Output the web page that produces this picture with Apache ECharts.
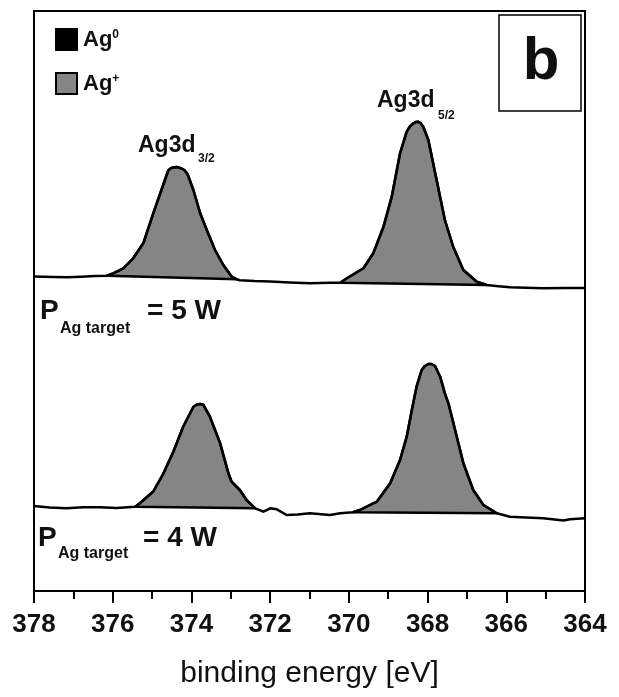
<!DOCTYPE html>
<html><head><meta charset="utf-8">
<script src="https://cdn.jsdelivr.net/npm/echarts@6/dist/echarts.min.js"></script>
<style>html,body{margin:0;padding:0;background:#fff}#c{width:619px;height:697px}</style>
</head><body><div id="c"></div>
<script>
// binding energy [eV] and intensity (arbitrary units, offset spectra)
const energyTop = [378.00, 377.50, 377.17, 376.80, 376.45, 376.15, 375.99, 375.73, 375.48, 375.22, 374.97, 374.71, 374.59, 374.53, 374.46, 374.37, 374.25, 374.18, 374.10, 373.95, 373.78, 373.61, 373.40, 373.19, 372.98, 372.85, 372.77, 372.40, 372.00, 371.50, 370.99, 370.48, 370.22, 370.05, 369.63, 369.38, 369.12, 368.91, 368.70, 368.53, 368.45, 368.36, 368.30, 368.24, 368.18, 368.11, 367.98, 367.77, 367.56, 367.35, 367.09, 366.75, 366.50, 366.20, 365.91, 365.50, 365.07, 364.50, 364.00];
const intensityTop = [314.5, 314.0, 313.7, 314.3, 315.0, 315.3, 317.7, 322.7, 332.7, 348.0, 377.7, 407.0, 420.5, 422.7, 423.5, 424.0, 422.5, 421.0, 417.0, 401.0, 378.0, 361.0, 341.0, 326.0, 314.5, 311.7, 310.8, 310.0, 309.5, 308.6, 307.7, 308.3, 308.3, 312.7, 322.7, 337.7, 364.3, 394.3, 437.7, 459.3, 464.5, 467.7, 469.0, 469.3, 468.0, 464.3, 451.0, 411.0, 371.0, 344.3, 321.0, 309.3, 306.0, 304.8, 303.7, 303.2, 302.7, 302.9, 303.0];
const energyBottom = [378.00, 377.60, 377.17, 376.75, 376.32, 375.90, 375.43, 375.31, 374.97, 374.71, 374.46, 374.21, 373.95, 373.87, 373.78, 373.70, 373.53, 373.27, 373.06, 372.98, 372.77, 372.60, 372.38, 372.17, 372.00, 371.83, 371.58, 371.30, 370.99, 370.48, 370.22, 369.89, 369.72, 369.29, 368.95, 368.70, 368.53, 368.40, 368.28, 368.15, 368.07, 367.98, 367.90, 367.81, 367.68, 367.56, 367.47, 367.30, 367.09, 366.84, 366.58, 366.24, 365.91, 365.50, 365.06, 364.55, 364.38, 364.00];
const intensityBottom = [85.0, 83.5, 82.7, 83.8, 83.7, 83.0, 84.3, 87.7, 99.5, 117.7, 139.3, 164.3, 184.3, 186.3, 187.0, 186.3, 174.3, 147.7, 117.7, 109.3, 101.0, 91.0, 82.7, 79.3, 82.7, 81.7, 76.0, 76.5, 77.7, 76.0, 77.7, 78.7, 81.0, 89.3, 107.7, 131.0, 154.3, 181.0, 204.3, 221.0, 225.0, 227.0, 227.0, 225.0, 214.3, 197.7, 187.7, 161.0, 127.7, 101.0, 86.0, 77.7, 74.3, 73.5, 72.7, 70.5, 71.7, 72.7];

// Ag+ fitted components: energy range of each peak and the spectrum it belongs to
const peakStart = [376.15, 370.22, 375.43, 369.89];
const peakEnd = [372.85, 366.50, 372.38, 366.24];
const peakSpectrum = [0, 0, 1, 1];

const legendNames = ['Ag0', 'Ag+'];
const axisMin = 364, axisMax = 378, axisStep = 2;

const spectra = [
  energyTop.map((e, i) => [e, intensityTop[i]]),
  energyBottom.map((e, i) => [e, intensityBottom[i]])
];

const FONT = '"Liberation Sans", Arial, sans-serif';
const chart = echarts.init(document.getElementById('c'), null, {renderer: 'canvas'});

function txt(text, x, y, size, bold) {
  return {
    type: 'text', x: x, y: y, silent: true,
    style: {text: text, fill: '#111', fontSize: size, fontWeight: bold ? 'bold' : 'normal',
      fontFamily: FONT, align: 'left', verticalAlign: 'middle'}
  };
}

const option = {
  animation: false,
  backgroundColor: '#fff',
  grid: {left: 34, right: 34, top: 11, bottom: 106, show: true, borderColor: '#000', borderWidth: 2},
  legend: {
    orient: 'vertical', left: 50, top: 23, itemWidth: 21, itemHeight: 21, itemGap: 21,
    icon: 'rect', selectedMode: false,
    data: [
      {name: legendNames[0], itemStyle: {color: '#000', borderColor: '#000', borderWidth: 2}},
      {name: legendNames[1], itemStyle: {color: '#858585', borderColor: '#000', borderWidth: 2}}
    ],
    formatter: n => n === 'Ag0' ? '{b|Ag}{s|0}' : '{b|Ag}{s|+}',
    textStyle: {
      rich: {
        b: {fontSize: 22, fontWeight: 'bold', fontFamily: FONT, color: '#111', padding: [0, 0, 0, 1]},
        s: {fontSize: 12, fontWeight: 'bold', fontFamily: FONT, color: '#111', verticalAlign: 'top', lineHeight: 6}
      }
    }
  },
  xAxis: {
    type: 'value', min: axisMin, max: axisMax, interval: axisStep, inverse: true,
    name: 'binding energy [eV]', nameLocation: 'middle', nameGap: 68,
    nameTextStyle: {fontSize: 30, color: '#111', fontFamily: FONT},
    axisLine: {show: true, lineStyle: {color: '#000', width: 2}},
    axisTick: {show: true, inside: false, length: 12, lineStyle: {color: '#000', width: 2}},
    minorTick: {show: true, splitNumber: 2, length: 8, lineStyle: {color: '#000', width: 2}},
    splitLine: {show: false}, minorSplitLine: {show: false},
    axisLabel: {color: '#111', fontSize: 26, fontWeight: 'bold', fontFamily: FONT, margin: 21}
  },
  yAxis: {type: 'value', min: 0, max: 580, show: false, splitLine: {show: false}},
  series: [
    {
      name: 'Ag+', type: 'custom', z: 2,
      data: peakStart.map((s, i) => [s, peakEnd[i], peakSpectrum[i]]),
      encode: {x: [0, 1], y: 2},
      itemStyle: {color: '#858585', borderColor: '#000'},
      renderItem: function (params, api) {
        const i = params.dataIndex;
        const s = spectra[peakSpectrum[i]];
        const hi = peakStart[i], lo = peakEnd[i];
        const pts = s.filter(p => p[0] <= hi + 1e-9 && p[0] >= lo - 1e-9).map(p => api.coord(p));
        return {type: 'polygon', shape: {points: pts},
          style: {fill: '#858585', stroke: '#000', lineWidth: 2.5, lineJoin: 'round'}};
      }
    },
    {name: 'Ag0', type: 'line', data: [], itemStyle: {color: '#000'}},
    {name: 'P = 5 W', type: 'line', z: 3, data: spectra[0], showSymbol: false, symbol: 'none',
      lineStyle: {color: '#000', width: 2.5, join: 'round'}, itemStyle: {color: '#000'}},
    {name: 'P = 4 W', type: 'line', z: 3, data: spectra[1], showSymbol: false, symbol: 'none',
      lineStyle: {color: '#000', width: 2.5, join: 'round'}, itemStyle: {color: '#000'}}
  ],
  graphic: [
    {type: 'rect', shape: {x: 499, y: 15, width: 82, height: 96}, style: {fill: '#fff', stroke: '#000', lineWidth: 1.5}, silent: true},
    {type: 'text', x: 541, y: 62, silent: true,
      style: {text: 'b', fill: '#111', fontSize: 60, fontWeight: 'bold', fontFamily: FONT, align: 'center', verticalAlign: 'middle'}},
    txt('Ag3d', 138, 145.5, 23, true),
    txt('3/2', 198, 159, 12, true),
    txt('Ag3d', 377, 100.5, 23, true),
    txt('5/2', 438, 116, 12, true),
    txt('P', 40, 311.7, 28, true),
    txt('Ag target', 60, 328.5, 16, true),
    txt('= 5 W', 147, 311.7, 28, true),
    txt('P', 38, 538, 28, true),
    txt('Ag target', 58, 554, 16, true),
    txt('= 4 W', 143, 538, 28, true)
  ]
};
chart.setOption(option);
</script>
</body></html>
